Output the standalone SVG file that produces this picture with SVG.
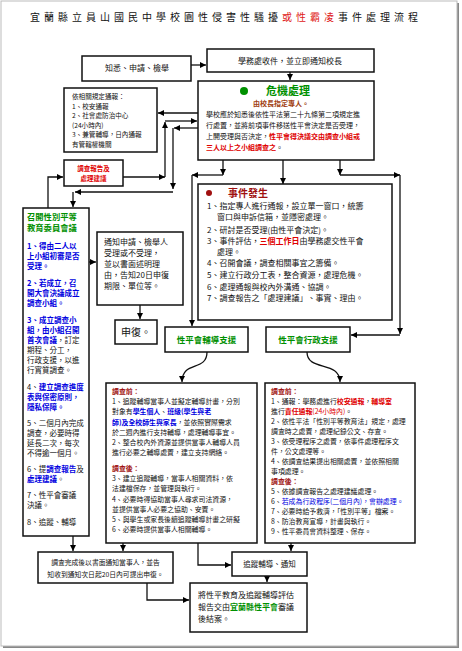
<svg xmlns="http://www.w3.org/2000/svg" width="462" height="651" viewBox="0 0 462 651">
<defs>
<marker id="ah" markerUnits="userSpaceOnUse" markerWidth="6" markerHeight="6" refX="6" refY="3" orient="auto"><path d="M0,0 L6,3 L0,6 z" fill="#000"/></marker>
<style>
text{font-family:"Noto Sans CJK TC","Noto Sans CJK SC",sans-serif;fill:#111}
.box{fill:#fff;stroke:#111;stroke-width:1.5}
.a{fill:none;stroke:#111;stroke-width:1.3;marker-end:url(#ah)}
.red{fill:#e00000;font-weight:bold}
.blue{fill:#0000e0;font-weight:bold}
.grn{fill:#009000;font-weight:bold}
.brn{fill:#a01010;font-weight:bold}
.mid{text-anchor:middle}
.t7{font-size:7px}
.t75{font-size:7.5px}
.t8{font-size:8px}
.b{font-size:6.9px}
</style>
</defs>
<rect x="0" y="0" width="462" height="651" fill="#fff"/>
<rect x="3" y="3" width="456" height="645" fill="#888"/>
<rect x="1" y="1" width="456" height="645" fill="#fff" stroke="#bbb" stroke-width="1"/>
<text x="30" y="21" font-size="10" letter-spacing="4">宜蘭縣立員山國民中學校園性侵害性騷擾<tspan fill="#e02020">或性霸凌</tspan>事件處理流程</text>

<g id="connectors">
<line class="a" x1="191" y1="65" x2="206" y2="65"/>
<line class="a" x1="290" y1="72" x2="290" y2="80"/>
<line class="a" x1="198" y1="113" x2="158" y2="113"/>
<line class="a" x1="123" y1="177" x2="165" y2="177"/>
<line class="a" x1="165" y1="177" x2="165" y2="122"/>
<line class="a" x1="165" y1="121" x2="197" y2="121"/>
<line class="a" x1="198" y1="128" x2="174" y2="128"/>
<line class="a" x1="173" y1="128" x2="173" y2="189"/>
<line class="a" x1="173" y1="192" x2="75" y2="192"/>
<line class="a" x1="73" y1="192" x2="73" y2="207"/>
<polyline class="a" points="48,208 48,177 63,177"/>
<line class="a" x1="223" y1="160" x2="223" y2="175"/>
<line class="a" x1="340" y1="160" x2="340" y2="175"/>
<line class="a" x1="283" y1="160" x2="283" y2="184"/>
<line class="a" x1="223" y1="175" x2="192" y2="175"/>
<line class="a" x1="340" y1="175" x2="400" y2="175"/>
<line class="a" x1="192" y1="175" x2="192" y2="326"/>
<line class="a" x1="400" y1="175" x2="400" y2="334"/>
<line class="a" x1="400" y1="335" x2="351" y2="335"/>
<line class="a" x1="89" y1="262" x2="96" y2="262"/>
<line class="a" x1="140" y1="305" x2="140" y2="319"/>
<path class="a" d="M207,352 C207,372 182,360 182,382"/>
<path class="a" d="M307,352 C307,372 340,360 340,382"/>
<line class="a" x1="73" y1="536" x2="73" y2="551"/>
<line class="a" x1="123" y1="543" x2="123" y2="551"/>
<polyline class="a" points="198,543 198,565 231,565"/>
<line class="a" x1="291" y1="543" x2="291" y2="551"/>
<line class="a" x1="267" y1="576" x2="267" y2="582"/>
<polyline class="a" points="147,583 147,600 189,600"/>
</g>

<g id="n_report">
<rect class="box" x="82" y="56" width="109" height="25"/>
<text class="mid t8" x="137" y="71">知悉、申請、檢舉</text>
</g>
<g id="n_receive">
<rect class="box" x="207" y="49" width="167" height="23"/>
<text class="mid t8" x="290" y="63.5">學務處收件，並立即通知校長</text>
</g>
<g id="n_notify">
<rect class="box" x="64" y="88" width="93" height="64"/>
<text x="72" y="99" font-size="6.6">依相關規定通報：</text>
<text x="72" y="108.6" font-size="6.6">1、校安通報</text>
<text x="72" y="118.2" font-size="6.6">2、社會處防治中心</text>
<text x="72" y="127.8" font-size="6.6">(24小時內)</text>
<text x="72" y="137.4" font-size="6.6">3、兼管輔導，日內通報</text>
<text x="72" y="147" font-size="6.6">有管轄權機關</text>
</g>
<g id="n_redbox">
<rect class="box" x="64" y="160" width="59" height="26"/>
<text class="mid red" x="93.5" y="171" font-size="6.5">調查報告及</text>
<text class="mid red" x="93.5" y="181" font-size="6.5">處理建議</text>
</g>
<g id="n_crisis">
<rect class="box" x="198" y="81" width="176" height="79"/>
<circle cx="244" cy="91" r="4" fill="#009000"/>
<text class="grn" x="266" y="95" font-size="11">危機處理</text>
<text class="mid" x="281" y="106" font-size="7" font-weight="bold" style="fill:#a04010">由校長指定專人。</text>
<text class="t7" x="206" y="117">學校應於知悉後依性平法第二十九條第二項規定進</text>
<text class="t7" x="206" y="128">行處置，並將前項事件移送性平會決定是否受理，</text>
<text class="t7" x="206" y="139">上開受理與否決定，<tspan class="red">性平會得決議交由調查小組或</tspan></text>
<text class="t7" x="206" y="150"><tspan class="red">三人以上之小組調查之</tspan>。</text>
</g>
<g id="n_event">
<rect class="box" x="198" y="184" width="194" height="136"/>
<circle cx="209" cy="193" r="3" fill="#a01010"/>
<text class="brn" x="228" y="197" font-size="10">事件發生</text>
<text class="t8" x="207" y="209">1、指定專人進行通報，設立單一窗口，統籌</text>
<text class="t8" x="217" y="220">窗口與申訴信箱，並隱密處理。</text>
<text class="t8" x="207" y="233">2、研討是否受理(由性平會決定)。</text>
<text class="t8" x="207" y="244">3、事件評估，<tspan class="red">三個工作日</tspan>由學務處交性平會</text>
<text class="t8" x="217" y="255">處理。</text>
<text class="t8" x="207" y="266">4、召開會議，調查相關事宜之籌備。</text>
<text class="t8" x="207" y="278">5、建立行政分工表，整合資源，處理危機。</text>
<text class="t8" x="207" y="289.5">6、處理通報與校內外溝通、協調。</text>
<text class="t8" x="207" y="301">7、調查報告之「處理建議」、事實、理由。</text>
</g>
<g id="n_committee">
<rect class="box" x="23" y="208" width="66" height="328"/>
<text class="grn" x="27" y="220" font-size="8.3">召開性別平等</text>
<text class="grn" x="27" y="231" font-size="8.3">教育委員會議</text>
<text class="blue t75" x="27" y="249">1、得由二人以</text>
<text class="blue t75" x="27" y="259">上小組初審是否</text>
<text class="blue t75" x="27" y="269">受理。</text>
<text class="blue t75" x="27" y="286">2、若成立，召</text>
<text class="blue t75" x="27" y="296">開大會決議成立</text>
<text class="blue t75" x="27" y="306">調查小組。</text>
<text class="blue t75" x="27" y="323">3、成立調查小</text>
<text class="blue t75" x="27" y="333">組，由小組召開</text>
<text class="t75" x="27" y="343"><tspan class="blue">首次會議</tspan>，訂定</text>
<text class="t75" x="27" y="353">期程、分工，</text>
<text class="t75" x="27" y="363">行政支援，以進</text>
<text class="t75" x="27" y="373">行實質調查。</text>
<text class="t75" x="27" y="390">4、<tspan class="blue">建立調查進度</tspan></text>
<text class="blue t75" x="27" y="400">表與保密原則，</text>
<text class="blue t75" x="27" y="410">隱私保障。</text>
<text class="t75" x="27" y="426">5、二個月內完成</text>
<text class="t75" x="27" y="436">調查，必要時得</text>
<text class="t75" x="27" y="446">延長二次，每次</text>
<text class="t75" x="27" y="456">不得逾一個月。</text>
<text class="t75" x="27" y="472">6、提<tspan class="blue">調查報告</tspan>及</text>
<text class="t75" x="27" y="482"><tspan class="blue">處理建議</tspan>。</text>
<text class="t75" x="27" y="498">7、性平會審議</text>
<text class="t75" x="27" y="508">決議。</text>
<text class="t75" x="27" y="525">8、追蹤、輔導</text>
</g>
<g id="n_notice">
<rect class="box" x="97" y="232" width="86" height="73"/>
<text class="t8" x="104" y="245">通知申請、檢舉人</text>
<text class="t8" x="104" y="256">受理或不受理，</text>
<text class="t8" x="104" y="267">並以書面述明理</text>
<text class="t8" x="104" y="278">由，告知20日申復</text>
<text class="t8" x="104" y="289">期限、單位等。</text>
</g>
<g id="n_appeal">
<rect class="box" x="115" y="320" width="42" height="24"/>
<text class="mid" x="136" y="336" font-size="10">申復。</text>
</g>
<g id="n_counsel">
<rect class="box" x="165" y="327" width="83" height="25"/>
<text class="mid grn" x="206.5" y="343" font-size="8.5">性平會輔導支援</text>
</g>
<g id="n_admin">
<rect class="box" x="266" y="327" width="84" height="25"/>
<text class="mid grn" x="308" y="343" font-size="8.5">性平會行政支援</text>
</g>
<g id="n_counsel_detail">
<rect class="box" x="106" y="383" width="151" height="160"/>
<text class="brn b" x="112" y="394">調查前：</text>
<text class="b" x="112" y="404.2">1、追蹤輔導當事人並擬定輔導計畫，分別</text>
<text class="b" x="112" y="414.4">對象有<tspan class="blue">學生個人</tspan>、<tspan class="blue">班級(學生與老</tspan></text>
<text class="b" x="112" y="424.6"><tspan class="blue">師)及全校師生與家長</tspan>，並依照實際需求</text>
<text class="b" x="112" y="434.8">於二週內進行支持輔導，處理輔導事宜。</text>
<text class="b" x="112" y="445">2、整合校內外資源並提供當事人輔導人員</text>
<text class="b" x="112" y="455.2">進行必要之輔導處置，建立支持網絡。</text>
<text class="brn b" x="112" y="471">調查後：</text>
<text class="b" x="112" y="481.2">3、建立追蹤輔導，當事人相關資料，依</text>
<text class="b" x="112" y="491.4">法建檔保存，並管理與執行。</text>
<text class="b" x="112" y="501.6">4、必要時得協助當事人尋求司法資源，</text>
<text class="b" x="112" y="511.8">並提供當事人必要之協助、安置。</text>
<text class="b" x="112" y="522">5、與學生或家長後續追蹤輔導計畫之研擬</text>
<text class="b" x="112" y="532.2">6、必要時提供當事人相關輔導。</text>
</g>
<g id="n_admin_detail">
<rect class="box" x="265" y="383" width="150" height="160"/>
<text class="brn b" x="271" y="393.5">調查前：</text>
<text class="b" x="271" y="403.5">1、通報：學務處進行<tspan class="red">校安通報</tspan>，<tspan class="red">輔導室</tspan></text>
<text class="b" x="271" y="413.5">進行<tspan class="red">責任通報</tspan><tspan fill="#e00000">(24小時內)</tspan>。</text>
<text class="b" x="271" y="423.5">2、依性平法「性別平等教育法」規定，處理</text>
<text class="b" x="271" y="433.5">調查時之處置，處理紀錄公文、存查。</text>
<text class="b" x="271" y="443.5">3、依受理程序之處置，依事件處理程序文</text>
<text class="b" x="271" y="453.5">件，公文處理等。</text>
<text class="b" x="271" y="463.5">4、依調查結果提出相關處置，並依照相關</text>
<text class="b" x="271" y="473.5">事項處理。</text>
<text class="brn b" x="271" y="483.5">調查後：</text>
<text class="b" x="271" y="493.5">5、依據調查報告之處理建議處理。</text>
<text class="b" x="271" y="503.5">6、<tspan fill="#0000e0">若成為行政程序(二個月內)，會辦處理。</tspan></text>
<text class="b" x="271" y="513.5">7、必要時給予救濟，「性別平等」檔案。</text>
<text class="b" x="271" y="523.5">8、防治教育宣導，計畫與執行。</text>
<text class="b" x="271" y="533.5">9、性平委員會資料整理、保存。</text>
</g>
<g id="n_result">
<rect class="box" x="38" y="552" width="135" height="31"/>
<text class="mid" x="105.5" y="565" font-size="6.8">調查完成後以書面通知當事人，並告</text>
<text class="mid" x="105.5" y="577" font-size="6.8">知收到通知次日起20日內可提出申復。</text>
</g>
<g id="n_follow">
<rect class="box" x="232" y="552" width="75" height="24"/>
<text class="mid t75" x="269.5" y="567">追蹤輔導、通知</text>
</g>
<g id="n_final">
<rect class="box" x="190" y="583" width="117" height="49"/>
<text class="t8" x="198" y="598">將性平教育及追蹤輔導評估</text>
<text class="t8" x="198" y="609.5">報告交由<tspan class="grn">宜蘭縣性平會</tspan>審議</text>
<text class="t8" x="198" y="621.5">後結案。</text>
</g>
</svg>
